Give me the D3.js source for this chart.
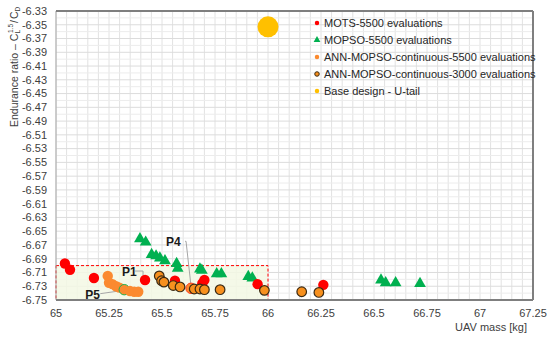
<!DOCTYPE html>
<html>
<head>
<meta charset="utf-8">
<script src="https://cdn.jsdelivr.net/npm/d3@7"></script>
<style>
  body { margin: 0; background: #fff; }
  text { font-family: "Liberation Sans", Arial, sans-serif; }
</style>
</head>
<body>
<div id="chart"></div>
<script>
// series values
var motsX = [65.042, 65.066, 65.179, 65.42, 65.561, 65.69, 65.70, 65.951, 66.261],
    motsY = [-6.697, -6.706, -6.718, -6.721, -6.722, -6.726, -6.721, -6.727, -6.728];

var mopsoX = [65.396, 65.423, 65.451, 65.472, 65.49, 65.514, 65.569, 65.574, 65.679, 65.688,
              65.758, 65.78, 65.907, 65.926, 66.533, 66.555, 66.602, 66.717],
    mopsoY = [-6.661, -6.666, -6.684, -6.686, -6.689, -6.693, -6.697, -6.704, -6.705, -6.707,
              -6.712, -6.712, -6.716, -6.718, -6.721, -6.725, -6.725, -6.726];

var ann5500X = [65.244, 65.25, 65.266, 65.283, 65.299, 65.322, 65.349, 65.369, 65.388, 65.637],
    ann5500Y = [-6.715, -6.725, -6.727, -6.730, -6.732, -6.735, -6.737, -6.738, -6.738, -6.733];

var ann3000X = [65.487, 65.498, 65.509, 65.553, 65.585, 65.652, 65.679, 65.70, 65.774, 65.983, 66.159, 66.24],
    ann3000Y = [-6.715, -6.722, -6.724, -6.729, -6.731, -6.734, -6.734, -6.735, -6.735, -6.736, -6.738, -6.739];

var baseX = [66.0], baseY = [-6.353];

var xTicks = [65, 65.25, 65.5, 65.75, 66, 66.25, 66.5, 66.75, 67, 67.25];
var yTicks = d3.range(0, 22).map(function (i) { return +(-6.33 - i * 0.02).toFixed(2); });

var legendLabels = ["MOTS-5500 evaluations", "MOPSO-5500 evaluations",
    "ANN-MOPSO-continuous-5500 evaluations", "ANN-MOPSO-continuous-3000 evaluations",
    "Base design - U-tail"];

// annotated points
var notes = [
    { name: "P1", x: 65.42, y: -6.721 },
    { name: "P4", x: 65.637, y: -6.733 },
    { name: "P5", x: 65.322, y: -6.735 }
];

var width = 550, height = 338,
    margin = { top: 11, right: 17, bottom: 38, left: 56 };

var svg = d3.select("#chart").append("svg")
    .attr("width", width)
    .attr("height", height);

var x = d3.scaleLinear().domain([65, 67.25]).range([margin.left, width - margin.right]);
var y = d3.scaleLinear().domain([-6.75, -6.33]).range([height - margin.bottom, margin.top]);

// grid
svg.append("g").selectAll("line")
    .data(d3.range(0, 46).map(function (i) { return 65 + i * 0.05; }))
    .enter().append("line")
    .attr("x1", function (d) { return x(d); })
    .attr("x2", function (d) { return x(d); })
    .attr("y1", y(-6.33)).attr("y2", y(-6.75))
    .attr("stroke", "#e2e2e2").attr("stroke-width", 1);

svg.append("g").selectAll("line")
    .data(d3.range(0, 43).map(function (i) { return -6.33 - i * 0.01; }))
    .enter().append("line")
    .attr("x1", x(65)).attr("x2", x(67.25))
    .attr("y1", function (d) { return y(d); })
    .attr("y2", function (d) { return y(d); })
    .attr("stroke", function (d, i) { return i % 2 == 0 ? "#dcdcdc" : "#ececec"; })
    .attr("stroke-width", 1);

// highlighted region
svg.append("rect")
    .attr("x", x(65)).attr("y", y(-6.70))
    .attr("width", x(66) - x(65)).attr("height", y(-6.75) - y(-6.70))
    .attr("fill", "#f3f8e4").attr("fill-opacity", 0.85)
    .attr("stroke", "#ff0000").attr("stroke-width", 1)
    .attr("stroke-dasharray", "3,2");

// frame
svg.append("line").attr("x1", x(65)).attr("x2", x(65)).attr("y1", y(-6.33)).attr("y2", y(-6.75))
    .attr("stroke", "#a6a6a6").attr("stroke-width", 1);
svg.append("line").attr("x1", x(65)).attr("x2", x(67.25)).attr("y1", y(-6.33)).attr("y2", y(-6.33))
    .attr("stroke", "#7f7f7f").attr("stroke-width", 2);
svg.append("line").attr("x1", x(67.25)).attr("x2", x(67.25)).attr("y1", y(-6.33)).attr("y2", y(-6.75))
    .attr("stroke", "#7f7f7f").attr("stroke-width", 2);
svg.append("line").attr("x1", x(65)).attr("x2", x(67.25)).attr("y1", y(-6.75)).attr("y2", y(-6.75))
    .attr("stroke", "#7f7f7f").attr("stroke-width", 2);

// axes labels
svg.append("g").selectAll("text")
    .data(yTicks)
    .enter().append("text")
    .attr("x", margin.left - 9)
    .attr("y", function (d) { return y(d); })
    .attr("dy", "0.35em")
    .style("text-anchor", "end")
    .attr("font-size", 11)
    .attr("fill", "#404040")
    .text(function (d) { return d.toFixed(2); });

svg.append("g").selectAll("text")
    .data(xTicks)
    .enter().append("text")
    .attr("x", function (d) { return x(d); })
    .attr("y", height - margin.bottom + 17)
    .style("text-anchor", "middle")
    .attr("font-size", 11)
    .attr("fill", "#404040")
    .text(function (d) { return d; });

svg.append("text")
    .attr("x", 527).attr("y", 331)
    .style("text-anchor", "end")
    .attr("font-size", 11).attr("fill", "#404040")
    .text("UAV mass [kg]");

var yt = svg.append("text")
    .attr("transform", "translate(18,127) rotate(-90)")
    .attr("font-size", 10.5).attr("fill", "#404040");
yt.append("tspan").text("Endurance ratio \u2013 C");
yt.append("tspan").attr("font-size", 6.5).attr("dy", 2).text("L");
yt.append("tspan").attr("font-size", 6.5).attr("dx", -3).attr("dy", -7).text("1.5");
yt.append("tspan").attr("dx", 1).attr("dy", 5).text("/");
yt.append("tspan").attr("dx", 1).text("C");
yt.append("tspan").attr("font-size", 6.5).attr("dy", 2).text("D");

// annotation leader lines
var lead = svg.append("g").attr("fill", "none").attr("stroke", "#a6a6a6").attr("stroke-width", 1);
lead.append("path").attr("d", "M" + (x(65.42) - 10) + "," + (y(-6.721) - 9) +
    "H" + (x(65.42) - 2) + "V" + (y(-6.721) - 4));
lead.append("path").attr("d", "M" + (x(65.637) - 6) + "," + (y(-6.733) - 47) +
    "H" + (x(65.637) - 5) + "L" + x(65.637) + "," + (y(-6.733) - 2));
lead.append("path").attr("d", "M" + (x(65.322) - 24) + "," + (y(-6.735) + 4) +
    "L" + (x(65.322) - 3) + "," + (y(-6.735) + 1));

// MOPSO triangles
svg.append("g").selectAll("path")
    .data(mopsoX)
    .enter().append("path")
    .attr("transform", function (d, i) { return "translate(" + x(d) + "," + y(mopsoY[i]) + ")"; })
    .attr("d", d3.symbol().type(d3.symbolTriangle).size(60))
    .attr("fill", "#00b050");

// MOTS circles
svg.append("g").selectAll("circle")
    .data(motsX)
    .enter().append("circle")
    .attr("cx", function (d) { return x(d); })
    .attr("cy", function (d, i) { return y(motsY[i]); })
    .attr("r", 5.2)
    .attr("fill", "#ff0000");

// ANN 5500
svg.append("g").selectAll("circle")
    .data(ann5500X)
    .enter().append("circle")
    .attr("cx", function (d) { return x(d); })
    .attr("cy", function (d, i) { return y(ann5500Y[i]); })
    .attr("r", 5.2)
    .attr("fill", "#fb8a2f")
    .attr("stroke", function (d) { return d == 65.322 ? "#22b14c" : (d == 65.637 ? "#ff3b1f" : "none"); })
    .attr("stroke-width", 1);

// ANN 3000
svg.append("g").selectAll("circle")
    .data(ann3000X)
    .enter().append("circle")
    .attr("cx", function (d) { return x(d); })
    .attr("cy", function (d, i) { return y(ann3000Y[i]); })
    .attr("r", 4.8)
    .attr("fill", "#f7901e")
    .attr("stroke", "#3b2a14")
    .attr("stroke-width", 1.2);

// base design
svg.append("g").selectAll("circle")
    .data(baseX)
    .enter().append("circle")
    .attr("cx", function (d) { return x(d); })
    .attr("cy", function (d, i) { return y(baseY[i]); })
    .attr("r", 10.5)
    .attr("fill", "#ffc000");

// annotation labels
svg.append("g").selectAll("text")
    .data(notes)
    .enter().append("text")
    .attr("x", function (d) {
        return d.name == "P1" ? x(d.x) - 23 : (d.name == "P4" ? x(d.x) - 25 : x(d.x) - 39);
    })
    .attr("y", function (d) {
        return d.name == "P1" ? y(d.y) - 4 : (d.name == "P4" ? y(d.y) - 42 : y(d.y) + 9);
    })
    .attr("font-size", 12).attr("font-weight", "bold").attr("fill", "#1a1a1a")
    .text(function (d) { return d.name; });

// legend
var legend = svg.append("g").attr("transform", "translate(317,23)");
var rows = legend.selectAll("g")
    .data(legendLabels)
    .enter().append("g")
    .attr("transform", function (d, i) { return "translate(0," + (i * 17) + ")"; });

rows.append("path")
    .attr("d", function (d, i) {
        return d3.symbol().type(i == 1 ? d3.symbolTriangle : d3.symbolCircle).size(i == 1 ? 20 : 16)();
    })
    .attr("fill", function (d, i) { return ["#ff0000", "#00b050", "#fb8a2f", "#f7901e", "#ffc000"][i]; })
    .attr("stroke", function (d, i) { return i == 3 ? "#3b2a14" : "none"; })
    .attr("stroke-width", 1);

rows.append("text")
    .attr("x", 7)
    .attr("dy", "0.35em")
    .attr("font-size", 11)
    .attr("fill", "#262626")
    .text(function (d) { return d; });
</script>
</body>
</html>
